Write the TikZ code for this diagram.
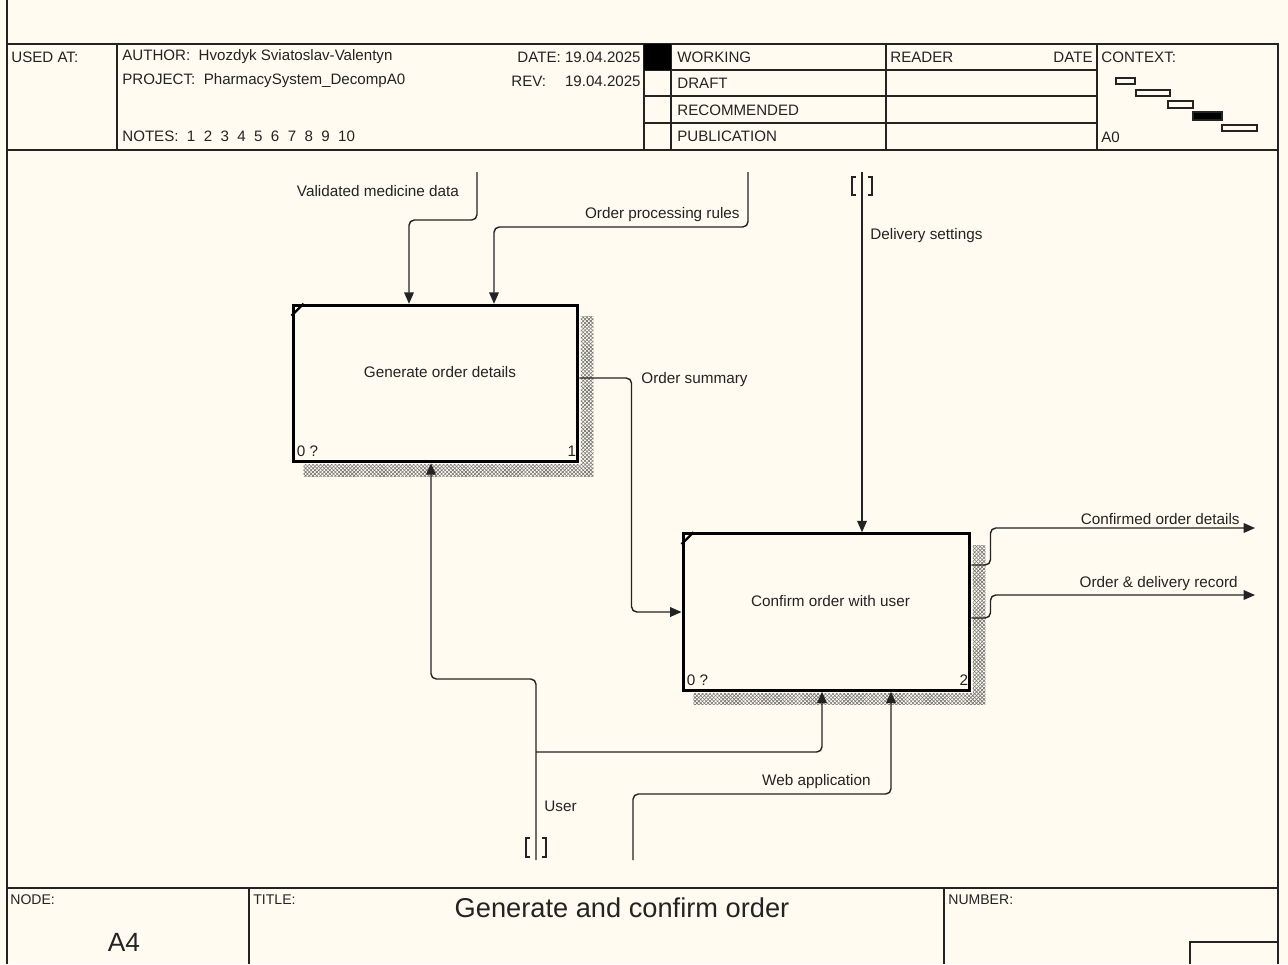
\documentclass[tikz,border=0pt]{standalone}
\usepackage{fontspec}
\setmainfont{Liberation Sans}
\usepackage{tikz}
\usetikzlibrary{positioning}
\usetikzlibrary{arrows.meta}
\usetikzlibrary{calc}
\usetikzlibrary{patterns.meta}

\definecolor{paper}{RGB}{255,251,240}
\definecolor{ink}{RGB}{35,35,35}

\begin{document}
\begin{tikzpicture}[
  x=0.02cm, y=-0.02cm,
  frame/.style={draw=ink, line width=0.8pt},
  hdr/.style={
    anchor=west,
    inner sep=0pt,
    font=\fontsize{8.6}{10}\selectfont,
    text=ink
  },
  actbox/.style={
    rectangle,
    draw=black,
    line width=1.7pt,
    fill=paper,
    minimum height=3.13cm,
    inner sep=0pt
  },
  lbl/.style={inner sep=0pt, font=\fontsize{8.7}{10}\selectfont, text=ink},
  arr/.style={-{Triangle[length=6.5pt,width=5.5pt]}, line width=0.8pt, draw=ink, rounded corners=3pt},
  tun/.style={line width=0.9pt, draw=ink},
  hatch/.style={pattern={Lines[angle=45,distance=1.5pt,line width=0.35pt]}, pattern color=black!55},
  hatchx/.style={pattern={Lines[angle=-45,distance=1.5pt,line width=0.35pt]}, pattern color=black!55}
]

\useasboundingbox (0,0) rectangle (1288,964);
\fill[paper] (0,0) rectangle (1288,964);

% ===================== header =====================
\draw[frame] (7,0) -- (7,964);
\draw[frame] (7,44) -- (1278,44) -- (1278,964);
\draw[frame] (7,150) -- (1278,150);
\foreach \xv in {117,644,671,886,1097}
  \draw[frame] (\xv,44) -- (\xv,150);
\foreach \yv in {70,96,123}
  \draw[frame] (644,\yv) -- (1097,\yv);
\fill[black] (644,44) rectangle (671,70);

\node[hdr] (usedat)  at (11,57)  {USED AT:};
\node[hdr] (author)  at (122,57) {AUTHOR:~~Hvozdyk Sviatoslav-Valentyn};
\node[hdr] (project) at (122,81) {PROJECT:~~PharmacySystem\_DecompA0};
\node[hdr] (notes)   at (122,136) {NOTES:~~1~~2~~3~~4~~5~~6~~7~~8~~9~~10};
\node[hdr, anchor=east] (date) at (641,57) {DATE:~19.04.2025};
\node[hdr] (rev)     at (511,81) {REV:};
\node[hdr, anchor=east] (revdate) at (641,81) {19.04.2025};

\node[hdr] (working) at (677,57)  {WORKING};
\node[hdr] (draft)   at (677,83)  {DRAFT};
\node[hdr] (recomm)  at (677,110) {RECOMMENDED};
\node[hdr] (publ)    at (677,136) {PUBLICATION};
\node[hdr] (reader)  at (890,57)  {READER};
\node[hdr, anchor=east] (rdate) at (1093,57) {DATE};
\node[hdr] (context) at (1101,57) {CONTEXT:};
\node[hdr] (ctxnode) at (1101,137) {A0};

\foreach \xa/\ya/\xb/\yb/\fc in {1116/78/1135/84/paper, 1136/90/1170/96/paper,
    1168/101/1193/108/paper, 1193/112/1222/120/black, 1222/125/1257/131/paper}
  \draw[line width=0.8pt, draw=ink, fill=\fc] (\xa,\ya) rectangle (\xb,\yb);

% ===================== footer =====================
\draw[frame] (7,888) -- (1278,888);
\draw[frame] (249,888) -- (249,964);
\draw[frame] (944,888) -- (944,964);
\draw[frame] (1190,964) -- (1190,942) -- (1278,942);

\node[hdr, font=\fontsize{8}{9}\selectfont] (nodelbl) at (10,900) {NODE:};
\node[hdr, font=\fontsize{8}{9}\selectfont] (titlelbl) at (253,900) {TITLE:};
\node[hdr, font=\fontsize{8}{9}\selectfont] (numlbl) at (948,900) {NUMBER:};
\node[inner sep=0pt, font=\fontsize{15}{17}\selectfont, text=ink] (nodeid) at (124,942) {A4};
\node[inner sep=0pt, font=\fontsize{15.5}{18}\selectfont, text=ink] (title) at (622,908) {Generate and confirm order};

% ===================== activities =====================
\node[actbox, minimum width=5.7cm]  (gen)  at (435.5,383.5) {};
\node[actbox, minimum width=5.74cm] (conf) at (826.5,612) {};

\foreach \b in {gen,conf} {
  \fill[hatch]  ($(\b.north east)+(1.5,13)$) rectangle ($(\b.south east)+(14,13)$);
  \fill[hatchx] ($(\b.north east)+(1.5,13)$) rectangle ($(\b.south east)+(14,13)$);
  \fill[hatch]  ($(\b.south west)+(12,1.5)$) rectangle ($(\b.south east)+(1.5,13)$);
  \fill[hatchx] ($(\b.south west)+(12,1.5)$) rectangle ($(\b.south east)+(1.5,13)$);
  \draw[line width=1.3pt] ($(\b.north west)+(0,12)$) -- ($(\b.north west)+(12,0)$);
}

\node[lbl] (gentxt)  at ($(gen.center)+(4.5,-11)$)  {Generate order details};
\node[lbl] (conftxt) at ($(conf.center)+(4,-11)$)  {Confirm order with user};
\node[lbl, anchor=south west] (gencost)  at ($(gen.south west)+(5,-6)$)  {0 ?};
\node[lbl, anchor=south east] (gennum)   at ($(gen.south east)+(-3,-6)$) {1};
\node[lbl, anchor=south west] (confcost) at ($(conf.south west)+(5,-6)$)  {0 ?};
\node[lbl, anchor=south east] (confnum)  at ($(conf.south east)+(-3,-6)$) {2};

% ===================== arrows =====================
\coordinate (vmd) at (477,172);
\coordinate (opr) at (748,172);
\coordinate (ds)  at (862,172);
\coordinate (cod) at (1255,528);
\coordinate (odr) at (1255,595);
\coordinate (usr) at (536,860);
\coordinate (web) at (633,860);

% inputs / controls
\draw[arr] (vmd) -- ++(0,48) -| ($(gen.north)+(-26.5,0)$);
\draw[arr] (opr) -- ++(0,55) -| ($(gen.north)+(58.5,0)$);
\draw[arr] ($(gen.east)+(0,-5.5)$) -| ($(conf.west)+(-50,0)$) -- (conf.west);
\draw[arr] (ds) -- (ds |- conf.north);

% outputs
\draw[arr] ($(conf.east)+(0,-47)$) -- ++(19,0) |- (cod);
\draw[arr] ($(conf.east)+(0,6)$) -- ++(19,0) |- (odr);

% mechanisms
\draw[arr] (usr) -- ++(0,-181) -| ($(gen.south)+(-4.5,0)$);
\draw[arr] ($(usr)+(0,-108)$) -| ($(conf.south)+(-4.5,0)$);
\draw[arr] (web) -- ++(0,-66) -| ($(conf.south)+(64.5,0)$);

% tunnels
\draw[tun] ($(ds)+(-6,5)$) -- ++(-4,0) -- ++(0,18) -- ++(4,0);
\draw[tun] ($(ds)+(6,5)$) -- ++(4,0) -- ++(0,18) -- ++(-4,0);
\draw[tun] ($(usr)+(-6,-22)$) -- ++(-4,0) -- ++(0,19) -- ++(4,0);
\draw[tun] ($(usr)+(6,-22)$) -- ++(4,0) -- ++(0,19) -- ++(-4,0);

% labels
\node[lbl] (vmdlbl) at (378,191) {Validated medicine data};
\node[lbl, anchor=east] (oprlbl) at (740,215) {Order processing rules};
\node[lbl, anchor=west] (oslbl)  at (641,380) {Order summary};
\node[lbl, anchor=west] (dslbl)  at (870,236) {Delivery settings};
\node[lbl, anchor=east] (codlbl) at (1240,519) {Confirmed order details};
\node[lbl, anchor=east] (odrlbl) at (1238,584) {Order \& delivery record};
\node[lbl, anchor=west] (usrlbl) at (544,806) {User};
\node[lbl, anchor=east] (weblbl) at (871,782) {Web application};

\end{tikzpicture}
\end{document}
